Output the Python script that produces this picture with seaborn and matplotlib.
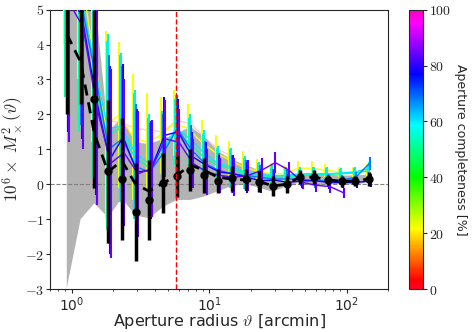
import numpy as np
import pandas as pd
import seaborn as sns
import matplotlib.pyplot as plt
import matplotlib as mpl
from matplotlib.ticker import FuncFormatter

# aperture radii [arcmin]
theta = [0.92, 1.16, 1.46, 1.84, 2.31, 2.91, 3.66, 4.61, 5.80, 7.31, 9.20, 11.6,
         14.6, 18.4, 23.1, 29.1, 36.6, 46.1, 58.0, 73.0, 91.9, 115.7, 145.7]

# combined measurement (black points)
m_val = [7.0, 7.0, 2.45, 0.37, 0.14, -0.8, -0.45, 0.03, 0.23, 0.4, 0.26, 0.1,
         0.17, 0.14, 0.07, -0.05, 0.0, 0.21, 0.2, 0.12, 0.08, 0.09, 0.14]
m_err = [5.0, 4.7, 2.55, 2.05, 1.75, 1.4, 1.15, 0.86, 0.6, 0.6, 0.5, 0.35,
         0.35, 0.3, 0.3, 0.3, 0.25, 0.2, 0.2, 0.15, 0.15, 0.15, 0.2]

# black dashed curve
mean_val = [4.3, 3.5, 1.45, 0.35, 0.68, 0.0, -0.2, 0.03, 0.25, 0.55, 0.4, 0.2,
            0.15, 0.12, 0.08, -0.05, 0.0, 0.22, 0.2, 0.13, 0.08, 0.1, 0.15]

# grey band
band_lo = [-2.97, -1.0, -0.55, -0.95, -0.4, -0.9, -0.97, -0.65, -0.45, -0.45, -0.35, -0.2,
           -0.05, 0.0, -0.1, -0.22, -0.05, 0.05, -0.05, 0.0, 0.0, 0.0, 0.05]
band_hi = [7.0, 7.0, 5.5, 1.5, 1.9, 1.2, 1.15, 1.3, 1.45, 1.65, 1.35, 0.95,
           0.7, 0.55, 0.4, 0.25, 0.25, 0.3, 0.3, 0.28, 0.25, 0.25, 0.28]

# individual apertures: completeness [%] and values
completeness = [22, 52, 60, 68, 78, 84]
s_yellow = [8.0, 6.5, 4.0, 1.7, 1.98, 1.35, 1.2, 1.4, 1.75, 1.6, 1.2, 0.9,
            0.7, 0.5, 0.38, 0.3, 0.3, 0.46, 0.46, 0.4, 0.35, 0.35, 0.4]
s_green = [6.5, 5.0, 3.0, 1.4, 1.6, 0.8, 0.5, 0.9, 1.5, 1.2, 0.8, 0.55,
           0.45, 0.3, 0.25, 0.2, 0.2, 0.25, 0.28, 0.28, 0.3, 0.32, 0.38]
s_cyan = [7.0, 5.5, 3.5, 1.6, 1.65, 0.9, 0.6, 1.0, 1.6, 1.3, 0.9, 0.6,
          0.5, 0.35, 0.28, 0.25, 0.25, 0.3, 0.3, 0.3, 0.32, 0.35, 0.45]
s_lblue = [6.0, 5.2, 3.2, 1.0, 1.3, 0.5, 0.35, 0.9, 1.6, 1.0, 0.6, 0.4,
           0.3, 0.25, 0.2, 0.15, 0.15, 0.15, 0.1, 0.1, 0.12, 0.2, 0.6]
s_blue = [5.5, 4.8, 2.5, 0.7, 1.35, 0.35, 0.4, 1.4, 1.5, 0.8, 0.55, 0.35,
          0.3, 0.2, 0.1, 0.12, 0.05, 0.1, 0.1, 0.05, 0.05, 0.05, 0.1]
s_violet = [5.2, 4.5, 2.2, 0.6, 0.9, 0.3, 0.45, 1.3, 1.2, 0.6, 0.35, 0.25,
            0.2, 0.25, 0.4, 0.62, 0.4, 0.05, -0.03, -0.07, -0.25, np.nan, np.nan]
col_err = [4.0, 3.5, 2.8, 2.7, 2.1, 1.8, 1.4, 1.1, 0.95, 0.7, 0.65, 0.5,
           0.55, 0.45, 0.35, 0.3, 0.25, 0.2, 0.2, 0.18, 0.15, 0.15, 0.18]

# faint low-completeness aperture
pink_val = [np.nan, np.nan, np.nan, 1.83, 1.75, 1.6, 1.55, 1.5, 1.83, 1.74, 1.35, 1.0,
            0.8, np.nan, np.nan, np.nan, np.nan, np.nan, np.nan, np.nan, np.nan, np.nan, np.nan]
pink_comp = 4

theta_cut = 5.75

sns.set_style("ticks")
plt.rcParams["mathtext.fontset"] = "cm"
plt.rcParams["font.family"] = ["DejaVu Sans"]

fig = plt.figure(figsize=(4.74, 3.32), dpi=100)
ax = fig.add_axes([0.1065, 0.1295, 0.712, 0.8415])
cax = fig.add_axes([0.863, 0.1295, 0.0295, 0.8415])

cmap = plt.get_cmap("gist_rainbow")
norm = mpl.colors.Normalize(0, 100)
th = np.array(theta)

ax.fill_between(th, band_lo, band_hi, color="#b3b3b3", lw=0, zorder=1)
ax.axhline(0, color="gray", ls="--", lw=0.8, zorder=1.5)
ax.axvline(theta_cut, color="red", ls="--", lw=1, zorder=6)

series = [s_yellow, s_green, s_cyan, s_lblue, s_blue, s_violet]
for k, (comp, vals) in enumerate(zip(completeness, series)):
    c = cmap(norm(comp))
    xs = th * 10 ** ((k - 2.5) * 0.007)
    df = pd.DataFrame({"theta": xs, "val": vals})
    sns.lineplot(data=df, x="theta", y="val", color=c, lw=1.0, ax=ax, zorder=3)
    ax.errorbar(xs, vals, yerr=col_err, fmt="none", ecolor=c, elinewidth=1.5, zorder=3)

dp = pd.DataFrame({"theta": th, "val": pink_val})
sns.lineplot(data=dp, x="theta", y="val", color=cmap(norm(pink_comp)), lw=1, alpha=0.2, ax=ax, zorder=2)

ax.errorbar(th, m_val, yerr=m_err, fmt="o", color="black", ms=5, elinewidth=2.5, zorder=4)
dm = pd.DataFrame({"theta": th, "val": mean_val})
sns.lineplot(data=dm, x="theta", y="val", color="black", lw=2, ax=ax, zorder=5)
ax.lines[-1].set_dashes((4, 2.5))

ax.set_xscale("log")
ax.set_xlim(0.7, 200)
ax.set_ylim(-3, 5)
ax.set_yticks(range(-3, 6))
ax.yaxis.set_major_formatter(FuncFormatter(lambda v, p: f"${v:g}$"))
ax.tick_params(which="major", labelsize=10, pad=1.5, length=3)
ax.tick_params(which="minor", length=1.5)
ax.set_xlabel(r"Aperture radius $\vartheta$ [arcmin]", fontsize=11.5)
ax.xaxis.label.set_va("center")
ax.xaxis.set_label_coords(0.5, -0.118)
ax.set_ylabel(r"$10^6\times\ M^2_\times(\vartheta)$", fontsize=12.5, labelpad=0)

sm = mpl.cm.ScalarMappable(norm=norm, cmap=cmap)
cb = fig.colorbar(sm, cax=cax)
cb.set_ticks([0, 20, 40, 60, 80, 100])
cb.ax.yaxis.set_major_formatter(FuncFormatter(lambda v, p: f"${v:g}$"))
cb.ax.tick_params(labelsize=10, pad=1.5, length=3)
cb.set_label("Aperture completeness [%]", rotation=270, labelpad=11, fontsize=9)

fig.savefig("out.png", dpi=100)
